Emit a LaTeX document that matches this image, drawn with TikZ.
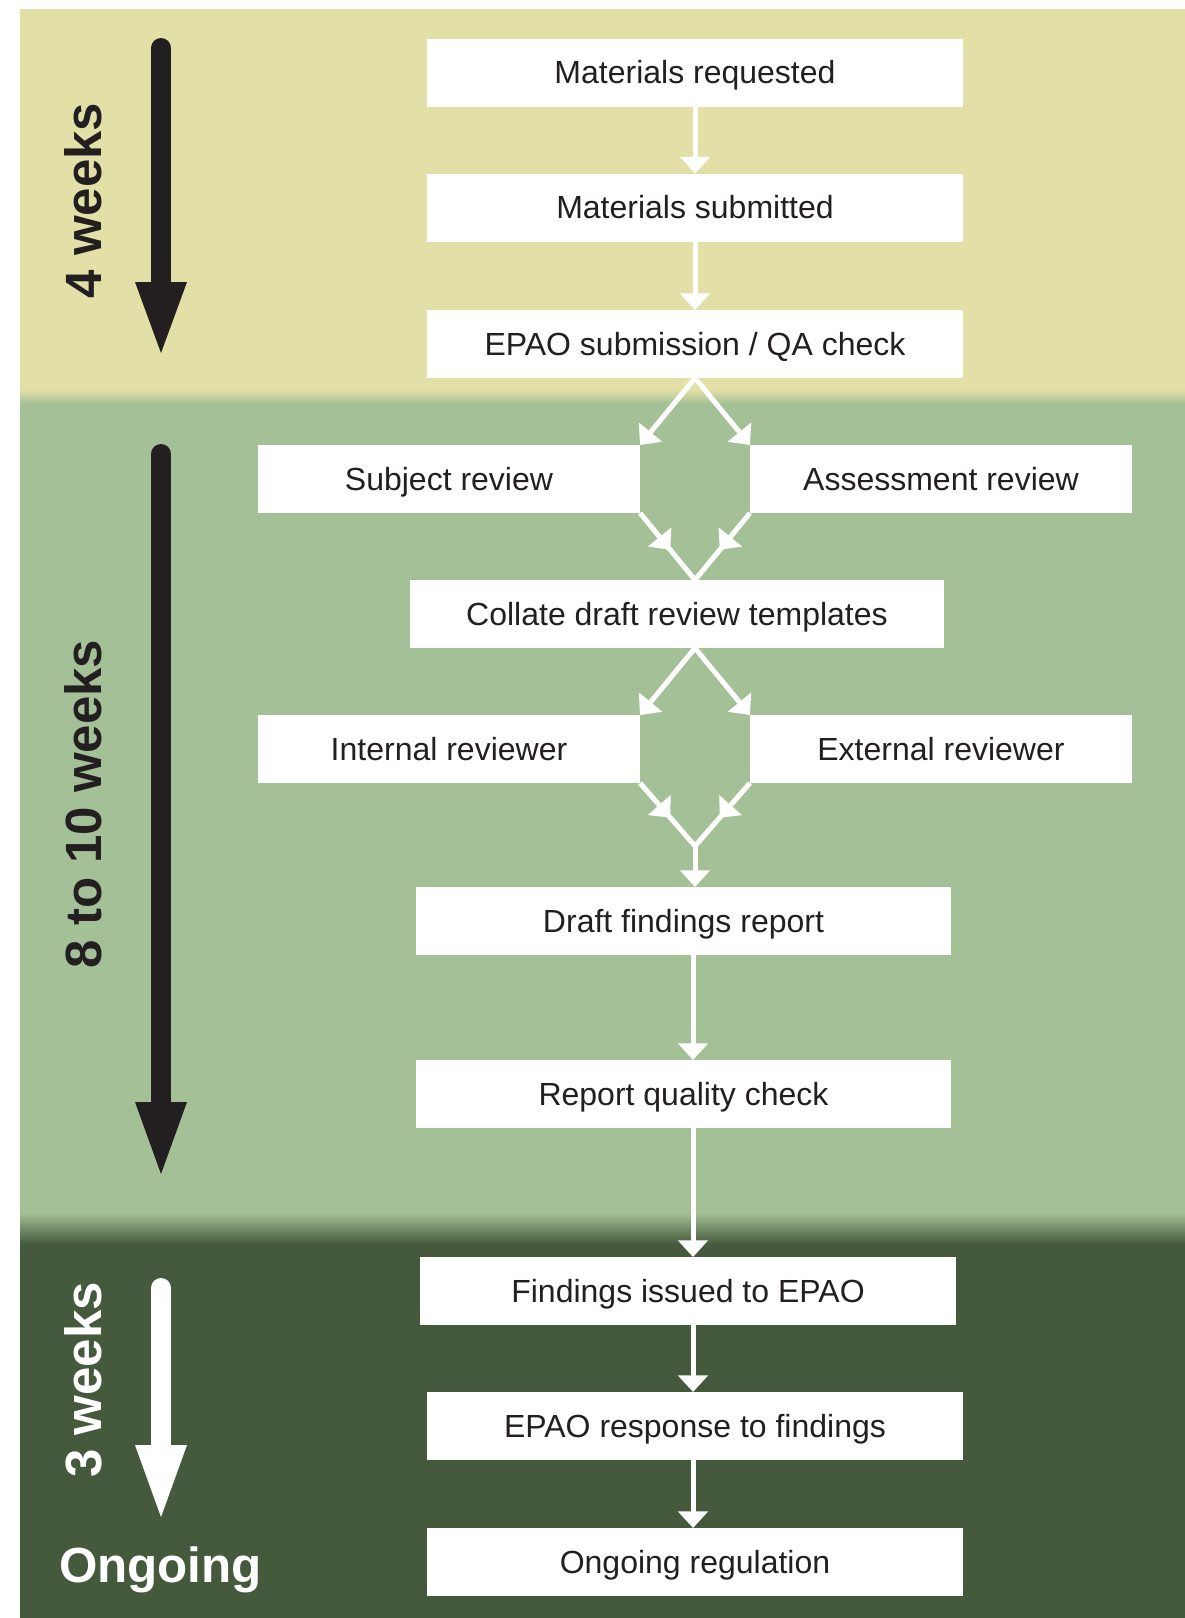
\documentclass[tikz,border=0pt]{standalone}
\usepackage{fontspec}
\setmainfont{Liberation Sans}
\usetikzlibrary{arrows.meta,decorations.markings}
\definecolor{bandyellow}{HTML}{E2E0A6}
\definecolor{bandgreen}{HTML}{A3C096}
\definecolor{banddark}{HTML}{455A3C}
\definecolor{ink}{HTML}{231F20}
\begin{document}
\begin{tikzpicture}[x=0.75pt,y=-0.75pt,
  box/.style={fill=white, draw=none, minimum height=51pt, inner sep=0pt, outer sep=0pt,
    text height=17.2pt, text depth=0pt,
    font=\fontsize{24}{28.8}\selectfont, text=ink},
  wide/.style={minimum width=402pt},
  side/.style={minimum width=286.5pt},
  tipshape/.tip={Triangle[width=22pt,length=12.5pt]},
  flow/.style={draw=white, line width=3.75pt, -tipshape},
  pairflow/.style={draw=white, line width=3.75pt, line join=miter, tipshape-tipshape},
  mergeflow/.style={draw=white, line width=3.75pt, line join=miter, postaction={decorate},
    decoration={markings,
      mark=at position 0.275 with {\arrow{tipshape}},
      mark=at position 0.725 with {\arrowreversed{tipshape}}}},
  spanlabel/.style={font=\fontsize{38.25}{40}\selectfont\bfseries, rotate=90, anchor=base, inner sep=0pt},
  bigshaft/.style={line width=15pt, line cap=round}
]
\useasboundingbox (0,0) rectangle (1185,1618);
% background bands
\fill[bandyellow] (20,9) rectangle (1185,390);
\shade[top color=bandyellow, bottom color=bandgreen] (20,389.5) rectangle (1185,404);
\fill[bandgreen] (20,403.5) rectangle (1185,1213);
\shade[top color=bandgreen, bottom color=banddark] (20,1212.5) rectangle (1185,1244);
\fill[banddark] (20,1243.5) rectangle (1185,1618);

% boxes
\node[box, wide] (m1) at (695,72.5) {Materials requested};
\node[box, wide] (m2) at (695,207.5) {Materials submitted};
\node[box, wide] (m3) at (695,344) {EPAO submission / QA check};
\node[box, side] (sr) at (449,479) {Subject review};
\node[box, side] (ar) at (941,479) {Assessment review};
\node[box, minimum width=400.5pt] (cd) at (677,614) {Collate draft review templates};
\node[box, side] (ir) at (449,749) {Internal reviewer};
\node[box, side] (xr) at (941,749) {External reviewer};
\node[box, minimum width=401.25pt] (df) at (683.5,921) {Draft findings report};
\node[box, minimum width=401.25pt] (rq) at (683.5,1094) {Report quality check};
\node[box, wide] (fi) at (688,1291) {Findings issued to EPAO};
\node[box, wide] (rs) at (695,1426) {EPAO response to findings};
\node[box, wide] (og) at (695,1562) {Ongoing regulation};

% helper points
\coordinate (c1) at (695,580);
\coordinate (c2) at (695,648);
\coordinate (j2) at (695,846);
\coordinate (col) at (693,0);

% connectors
\draw[flow] (m1.south) -- (m2.north);
\draw[flow] (m2.south) -- (m3.north);
\draw[pairflow] (sr.north east) -- (m3.south) -- (ar.north west);
\draw[mergeflow] (sr.south east) -- (c1) -- (ar.south west);
\draw[pairflow] (ir.north east) -- (c2) -- (xr.north west);
\draw[mergeflow] (ir.south east) -- (j2) -- (xr.south west);
\draw[flow] (j2) -- (j2 |- df.north);
\draw[flow] (df.south -| col) -- (rq.north -| col);
\draw[flow] (rq.south -| col) -- (fi.north -| col);
\draw[flow] (fi.south -| col) -- (rs.north -| col);
\draw[flow] (rs.south -| col) -- (og.north -| col);

% timeline arrows
\draw[ink, bigshaft] (161,48) -- (161,283);
\fill[ink] (135,282) -- (187,282) -- (161,353) -- cycle;
\draw[ink, bigshaft] (161,454) -- (161,1103);
\fill[ink] (135,1102) -- (187,1102) -- (161,1174) -- cycle;
\draw[white, bigshaft] (161,1288) -- (161,1446);
\fill[white] (135,1445) -- (187,1445) -- (161,1517) -- cycle;

% timeline labels
\node[spanlabel, text=ink] (w4) at (101,200.5) {4 weeks};
\node[spanlabel, text=ink] (w8) at (101,804) {8 to 10 weeks};
\node[spanlabel, text=white] (w3) at (101,1380) {3 weeks};
\node[font=\fontsize{37}{40}\selectfont\bfseries, text=white, anchor=base, inner sep=0pt] (ongo) at (160.5,1582) {Ongoing};
\end{tikzpicture}
\end{document}
